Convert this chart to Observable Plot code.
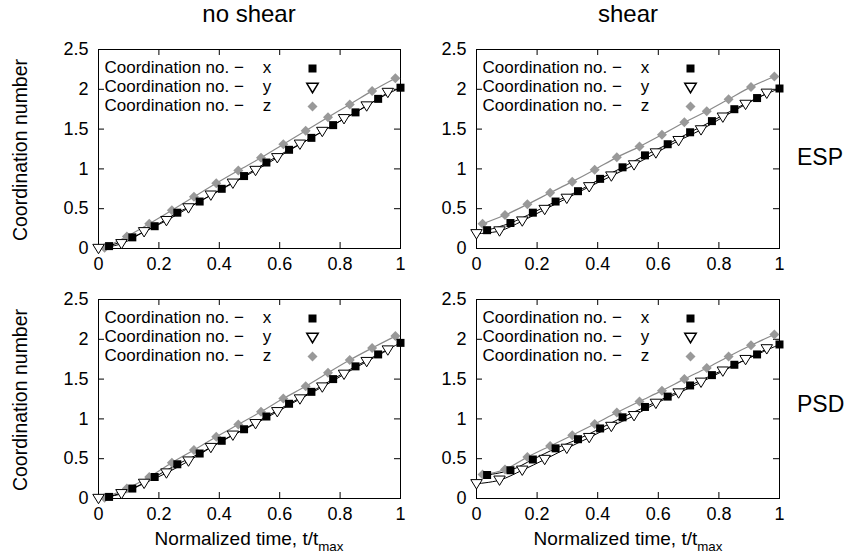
<!DOCTYPE html>
<html><head><meta charset="utf-8">
<script src="https://cdn.jsdelivr.net/npm/d3@7"></script>
<script src="https://cdn.jsdelivr.net/npm/@observablehq/plot@0.6"></script>
<style>
body{margin:0;background:#fff;}
#wrap{position:relative;width:848px;height:560px;overflow:hidden;font-family:"Liberation Sans",Arial,sans-serif;color:#000;background:#fff;}
.panel{position:absolute;}
.lbl{position:absolute;white-space:nowrap;line-height:24px;}
</style></head><body><div id="wrap"></div>
<script>
// ---- data ----
const colTitles = ["no shear", "shear"];
const rowTitles = ["ESP", "PSD"];
const yLabel = "Coordination number";
const xTicks = [0, 0.2, 0.4, 0.6, 0.8, 1];
const yTicks = [0, 0.5, 1, 1.5, 2, 2.5];
const legendLabels = ["Coordination no. \u2212\u00a0\u00a0\u00a0\u00a0x", "Coordination no. \u2212\u00a0\u00a0\u00a0\u00a0y", "Coordination no. \u2212\u00a0\u00a0\u00a0\u00a0z"];

// normalized time of the plotted markers
const tX = [0.035, 0.112, 0.186, 0.261, 0.335, 0.408, 0.482, 0.556, 0.631, 0.705, 0.777, 0.851, 0.926, 1.0];
const tY = [0.0, 0.076, 0.151, 0.225, 0.298, 0.372, 0.445, 0.52, 0.592, 0.667, 0.741, 0.813, 0.888, 0.958];
const tZ = [0.02, 0.094, 0.168, 0.243, 0.316, 0.39, 0.463, 0.538, 0.612, 0.686, 0.76, 0.832, 0.906, 0.983];

// ESP, no shear
const espNoShearX = [0.03, 0.14, 0.28, 0.45, 0.59, 0.75, 0.91, 1.08, 1.24, 1.39, 1.55, 1.71, 1.88, 2.02];
const espNoShearY = [0.0, 0.06, 0.21, 0.35, 0.51, 0.67, 0.82, 0.98, 1.14, 1.31, 1.47, 1.63, 1.79, 1.96];
const espNoShearZ = [0.01, 0.15, 0.31, 0.48, 0.65, 0.82, 0.98, 1.14, 1.31, 1.48, 1.65, 1.81, 1.98, 2.14];
// ESP, shear
const espShearX = [0.23, 0.32, 0.45, 0.59, 0.72, 0.875, 1.02, 1.17, 1.31, 1.46, 1.60, 1.75, 1.89, 2.01];
const espShearY = [0.185, 0.22, 0.345, 0.49, 0.63, 0.775, 0.91, 1.05, 1.20, 1.355, 1.49, 1.65, 1.81, 1.95];
const espShearZ = [0.31, 0.42, 0.555, 0.70, 0.84, 0.99, 1.145, 1.28, 1.43, 1.585, 1.725, 1.875, 2.03, 2.16];
// PSD, no shear
const psdNoShearX = [0.02, 0.125, 0.27, 0.43, 0.565, 0.725, 0.87, 1.03, 1.19, 1.34, 1.50, 1.66, 1.81, 1.955];
const psdNoShearY = [0.0, 0.06, 0.19, 0.32, 0.47, 0.64, 0.795, 0.94, 1.09, 1.25, 1.40, 1.56, 1.72, 1.865];
const psdNoShearZ = [0.01, 0.125, 0.27, 0.45, 0.61, 0.775, 0.93, 1.09, 1.255, 1.41, 1.58, 1.74, 1.89, 2.04];
// PSD, shear
const psdShearX = [0.295, 0.355, 0.49, 0.63, 0.745, 0.88, 1.02, 1.15, 1.28, 1.42, 1.55, 1.68, 1.81, 1.935];
const psdShearY = [0.185, 0.23, 0.355, 0.49, 0.63, 0.765, 0.905, 1.04, 1.195, 1.325, 1.46, 1.60, 1.745, 1.88];
const psdShearZ = [0.30, 0.365, 0.52, 0.66, 0.795, 0.935, 1.08, 1.22, 1.355, 1.50, 1.64, 1.785, 1.925, 2.06];

// ---- symbols ----
const symSquare = {draw(c, size){const r = Math.sqrt(size/Math.PI); c.moveTo(-r,-r); c.lineTo(r,-r); c.lineTo(r,r); c.lineTo(-r,r); c.closePath();}};
const symTriDown = {draw(c, size){const r = Math.sqrt(size/Math.PI); c.moveTo(-1.1*r,-0.8*r); c.lineTo(1.1*r,-0.8*r); c.lineTo(0,r); c.closePath();}};
const symDiamond = {draw(c, size){const r = Math.sqrt(size/Math.PI); c.moveTo(0,-r); c.lineTo(r,0); c.lineTo(0,r); c.lineTo(-r,0); c.closePath();}};

const rows = (t, v) => t.map((ti, i) => ({t: ti, v: v[i]}));
const wrap = document.getElementById("wrap");

function panel({left, top, width, height, mL, mR, mT, mB, X, Y, Z}) {
  const fw = width - mL - mR, fh = height - mT - mB;
  const dx = rows(tX, X), dy = rows(tY, Y), dz = rows(tZ, Z);
  const leg = (i, sym, opts) => Plot.dot([legendLabels[i]], {frameAnchor: "top-left", dx: 214, dy: 19 + i * 19, symbol: sym, ...opts});
  const p = Plot.plot({
    width, height, marginLeft: mL, marginRight: mR, marginTop: mT, marginBottom: mB,
    style: {fontFamily: "Liberation Sans, Arial, sans-serif", fontSize: "18px", background: "white", color: "black"},
    x: {domain: [0, 1], label: null},
    y: {domain: [0, 2.5], label: null},
    marks: [
      Plot.frame({stroke: "black", strokeWidth: 1}),
      Plot.tickY(yTicks, {stroke: "black", insetRight: fw - 6}),
      Plot.tickY(yTicks, {stroke: "black", insetLeft: fw - 6}),
      Plot.tickX(xTicks, {stroke: "black", insetTop: fh - 6}),
      Plot.tickX(xTicks, {stroke: "black", insetBottom: fh - 6}),
      Plot.axisY(yTicks, {tickSize: 0, tickPadding: 10, tickFormat: d => String(d), fontSize: 18, label: null}),
      Plot.axisX(xTicks, {tickSize: 0, tickPadding: 9, tickFormat: d => String(d), fontSize: 18, label: null}),
      Plot.line(dz, {x: "t", y: "v", stroke: "#8a8a8a", strokeWidth: 1.2, curve: "catmull-rom"}),
      Plot.line(dx, {x: "t", y: "v", stroke: "black", strokeWidth: 1, curve: "catmull-rom"}),
      Plot.line(dy, {x: "t", y: "v", stroke: "black", strokeWidth: 1, curve: "catmull-rom"}),
      Plot.dot(dz, {x: "t", y: "v", symbol: symDiamond, r: 5, fill: "#999999"}),
      Plot.dot(dx, {x: "t", y: "v", symbol: symSquare, r: 4, fill: "black"}),
      Plot.dot(dy, {x: "t", y: "v", symbol: symTriDown, r: 5.2, fill: "white", stroke: "black", strokeWidth: 1}),
      Plot.text([legendLabels.join("\n")], {frameAnchor: "top-left", dx: 6, dy: 10, textAnchor: "start", lineAnchor: "top", lineHeight: 1.12, fontSize: 17, text: d => d}),
      leg(0, symSquare, {r: 4, fill: "black"}),
      leg(1, symTriDown, {r: 5.2, fill: "white", stroke: "black"}),
      leg(2, symDiamond, {r: 5, fill: "#999999"})
    ]
  });
  p.classList.add("panel");
  p.style.left = left + "px";
  p.style.top = top + "px";
  wrap.appendChild(p);
}

panel({left: 0, top: 0, width: 424, height: 280, mL: 98, mR: 24, mT: 49, mB: 32, X: espNoShearX, Y: espNoShearY, Z: espNoShearZ});
panel({left: 424, top: 0, width: 424, height: 280, mL: 52, mR: 69, mT: 49, mB: 32, X: espShearX, Y: espShearY, Z: espShearZ});
panel({left: 0, top: 280, width: 424, height: 280, mL: 98, mR: 24, mT: 19, mB: 62, X: psdNoShearX, Y: psdNoShearY, Z: psdNoShearZ});
panel({left: 424, top: 280, width: 424, height: 280, mL: 52, mR: 69, mT: 19, mB: 62, X: psdShearX, Y: psdShearY, Z: psdShearZ});

function label(html, css) {
  const d = document.createElement("div");
  d.className = "lbl";
  d.innerHTML = html;
  Object.assign(d.style, css);
  wrap.appendChild(d);
  return d;
}
// column titles
label(colTitles[0], {left: "249px", top: "2px", fontSize: "24px", transform: "translateX(-50%)"});
label(colTitles[1], {left: "628px", top: "2px", fontSize: "24px", transform: "translateX(-50%)"});
// row titles
label(rowTitles[0], {left: "797px", top: "145px", fontSize: "23px"});
label(rowTitles[1], {left: "797px", top: "392px", fontSize: "23px"});
// y labels
label(yLabel, {left: "20px", top: "150px", fontSize: "19.5px", transform: "translate(-50%,-50%) rotate(-90deg)"});
label(yLabel, {left: "20px", top: "400px", fontSize: "19.5px", transform: "translate(-50%,-50%) rotate(-90deg)"});
// x labels
const xl = 'Normalized time, t/t<span style="font-size:70%;position:relative;top:0.45em">max</span>';
label(xl, {left: "249px", top: "527px", fontSize: "19px", transform: "translateX(-50%)"});
label(xl, {left: "628px", top: "527px", fontSize: "19px", transform: "translateX(-50%)"});
</script></body></html>
